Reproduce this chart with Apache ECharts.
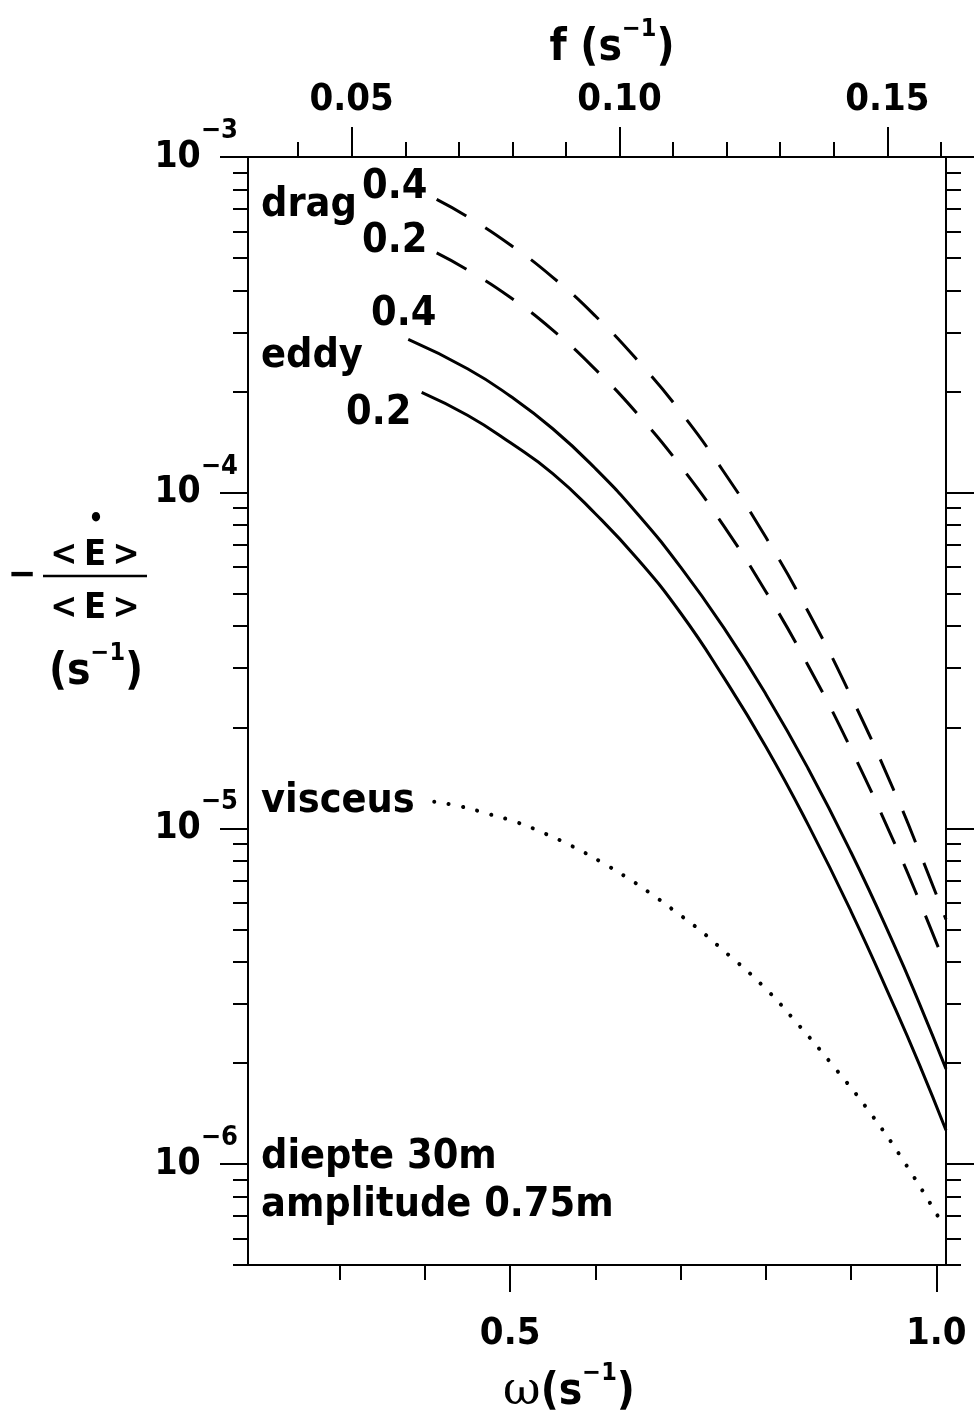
<!DOCTYPE html>
<html><head><meta charset="utf-8">
<script src="https://cdn.jsdelivr.net/npm/echarts@6/dist/echarts.min.js"></script>
<style>html,body{margin:0;padding:0;background:#fff}#c{width:975px;height:1423px}</style>
</head><body><div id="c"></div>
<script>
const FONT = "'DejaVu Sans Condensed','DejaVu Sans',sans-serif";
const TWO_PI = 2 * Math.PI;

// axis ranges and ticks
const omegaRange = [0.1925, 1.0113];
const yRange = [5e-7, 1e-3];
const omegaMajorTicks = [0.5, 1.0];
const omegaMinorTicks = [0.3, 0.4, 0.6, 0.7, 0.8, 0.9];
const fMajorTicks = [0.05, 0.10, 0.15];
const fMinorTicks = [0.04, 0.06, 0.07, 0.08, 0.09, 0.11, 0.12, 0.13, 0.14, 0.16];
const yDecades = [1e-6, 1e-5, 1e-4, 1e-3];
const yMinorTicks = [5e-7, 6e-7, 7e-7, 8e-7, 9e-7,
  2e-6, 3e-6, 4e-6, 5e-6, 6e-6, 7e-6, 8e-6, 9e-6,
  2e-5, 3e-5, 4e-5, 5e-5, 6e-5, 7e-5, 8e-5, 9e-5,
  2e-4, 3e-4, 4e-4, 5e-4, 6e-4, 7e-4, 8e-4, 9e-4];

// drag 0.4 (dashed)
const dragOmega04 = [0.4138, 0.45, 0.50, 0.55, 0.60, 0.65, 0.70, 0.75, 0.80, 0.85, 0.90, 0.95, 0.98, 1.0113];
const drag04 = [7.48e-4, 6.64e-4, 5.48e-4, 4.38e-4, 3.36e-4, 2.47e-4, 1.74e-4, 1.16e-4, 7.36e-5, 4.40e-5, 2.47e-5, 1.30e-5, 8.52e-6, 5.35e-6];
// drag 0.2 (dashed)
const dragOmega02 = [0.4138, 0.45, 0.50, 0.55, 0.60, 0.65, 0.70, 0.75, 0.80, 0.85, 0.90, 0.95, 0.98, 1.0113];
const drag02 = [5.18e-4, 4.61e-4, 3.82e-4, 3.05e-4, 2.33e-4, 1.71e-4, 1.20e-4, 8.00e-5, 5.07e-5, 3.04e-5, 1.72e-5, 9.14e-6, 6.08e-6, 3.87e-6];
// eddy 0.4 (solid)
const eddyOmega04 = [0.3805, 0.45, 0.50, 0.55, 0.60, 0.65, 0.70, 0.75, 0.80, 0.85, 0.90, 0.95, 0.98, 1.0113];
const eddy04 = [2.86e-4, 2.34e-4, 1.94e-4, 1.55e-4, 1.18e-4, 8.61e-5, 6.00e-5, 3.98e-5, 2.51e-5, 1.50e-5, 8.47e-6, 4.52e-6, 3.01e-6, 1.92e-6];
// eddy 0.2 (solid)
const eddyOmega02 = [0.3962, 0.45, 0.50, 0.55, 0.60, 0.65, 0.70, 0.75, 0.80, 0.85, 0.90, 0.95, 0.98, 1.0113];
const eddy02 = [1.99e-4, 1.70e-4, 1.41e-4, 1.14e-4, 8.65e-5, 6.32e-5, 4.38e-5, 2.83e-5, 1.75e-5, 1.02e-5, 5.65e-6, 2.97e-6, 1.98e-6, 1.26e-6];
// viscous (dotted)
const viscOmega = [0.411, 0.4432, 0.4764, 0.5089, 0.5417, 0.5729, 0.6054, 0.6379, 0.668, 0.6946, 0.7219, 0.7482, 0.7951, 0.8392, 0.8811, 0.9233, 0.9644, 1.0035];
const visc = [1.20e-5, 1.16e-5, 1.10e-5, 1.04e-5, 9.62e-6, 8.84e-6, 7.97e-6, 7.11e-6, 6.31e-6, 5.63e-6, 4.99e-6, 4.37e-6, 3.42e-6, 2.58e-6, 1.93e-6, 1.41e-6, 9.95e-7, 6.87e-7];

const zip = (xs, ys) => xs.map((x, i) => [x, ys[i]]);
const black = '#000';
const tickStyle = { color: black, width: 2 };
const lineStyleAxis = { color: black, width: 2 };
const txt = (size) => ({ fontSize: size, fontFamily: FONT, fontWeight: 'bold', color: black });

const supRich = {
  b: Object.assign(txt(37), { lineHeight: 37, verticalAlign: 'bottom' }),
  s: Object.assign(txt(27), { lineHeight: 27, verticalAlign: 'bottom', padding: [0, 0, 31, 0] })
};
const titleRich = {
  a: Object.assign(txt(44), { lineHeight: 44, verticalAlign: 'bottom' }),
  w: { fontSize: 46, fontFamily: "'DejaVu Serif',serif", color: black, lineHeight: 44, verticalAlign: 'bottom' },
  s: Object.assign(txt(25), { lineHeight: 25, verticalAlign: 'bottom', padding: [0, 0, 29, 0] })
};

function xAx(opt) {
  return Object.assign({
    type: 'value', gridIndex: 0, splitLine: { show: false },
    axisLine: { show: true, onZero: false, lineStyle: lineStyleAxis },
    axisLabel: { show: false }
  }, opt);
}
function yAx(opt) {
  return Object.assign({
    type: 'log', logBase: 10, min: yRange[0], max: yRange[1], gridIndex: 0,
    splitLine: { show: false }, minorTick: { show: false },
    axisLine: { show: true, onZero: false, lineStyle: lineStyleAxis },
    axisLabel: { show: false }
  }, opt);
}
function label(text, x, y, size, align) {
  return { type: 'text', x: x, y: y, style: { text: text, font: `bold ${size}px ${FONT}`, fill: black,
    align: align || 'left', verticalAlign: 'middle', textAlign: align || 'left', textVerticalAlign: 'middle' } };
}

const option = {
  animation: false,
  backgroundColor: '#fff',
  grid: { left: 248, right: 29, top: 157, bottom: 158, containLabel: false },
  xAxis: [
    xAx({ position: 'bottom', min: omegaRange[0], max: omegaRange[1],
      axisTick: { customValues: omegaMajorTicks, length: 27, lineStyle: tickStyle },
      axisLabel: Object.assign(txt(38), { show: true, customValues: omegaMajorTicks, margin: 50, formatter: v => v.toFixed(1) }),
      name: '{w|ω}{a|(s}{s|−1}{a|)}', nameLocation: 'middle', nameGap: 106,
      nameTextStyle: { rich: titleRich, padding: [0, 56, 0, 0] } }),
    xAx({ position: 'bottom', min: omegaRange[0], max: omegaRange[1], axisLine: { show: false },
      axisTick: { customValues: omegaMinorTicks, length: 15, lineStyle: tickStyle } }),
    xAx({ position: 'top', min: omegaRange[0] / TWO_PI, max: omegaRange[1] / TWO_PI,
      axisTick: { customValues: fMajorTicks, length: 30, lineStyle: tickStyle },
      axisLabel: Object.assign(txt(38), { show: true, customValues: fMajorTicks, margin: 38, formatter: v => v.toFixed(2) }),
      name: '{a|f (s}{s|−1}{a|)}', nameLocation: 'middle', nameGap: 86,
      nameTextStyle: { rich: titleRich, padding: [0, 0, 0, 30] } }),
    xAx({ position: 'top', min: omegaRange[0] / TWO_PI, max: omegaRange[1] / TWO_PI, axisLine: { show: false },
      axisTick: { customValues: fMinorTicks, length: 15, lineStyle: tickStyle } })
  ],
  yAxis: [
    yAx({ position: 'left',
      axisTick: { customValues: yDecades, length: 28, lineStyle: tickStyle },
      axisLabel: { show: true, customValues: yDecades, margin: 10, rich: supRich,
        formatter: v => '{b|10}{s|−' + Math.round(-Math.log10(v)) + '}' } }),
    yAx({ position: 'left', axisLine: { show: false },
      axisTick: { customValues: yMinorTicks, length: 15, lineStyle: tickStyle } }),
    yAx({ position: 'right',
      axisTick: { customValues: yDecades, length: 28, lineStyle: tickStyle } }),
    yAx({ position: 'right', axisLine: { show: false },
      axisTick: { customValues: yMinorTicks, length: 15, lineStyle: tickStyle } })
  ],
  series: [
    { name: 'drag 0.4', type: 'line', data: zip(dragOmega04, drag04), smooth: true, showSymbol: false,
      lineStyle: { color: black, width: 3, type: [34, 22] } },
    { name: 'drag 0.2', type: 'line', data: zip(dragOmega02, drag02), smooth: true, showSymbol: false,
      lineStyle: { color: black, width: 3, type: [34, 22] } },
    { name: 'eddy 0.4', type: 'line', data: zip(eddyOmega04, eddy04), smooth: true, showSymbol: false,
      lineStyle: { color: black, width: 3 } },
    { name: 'eddy 0.2', type: 'line', data: zip(eddyOmega02, eddy02), smooth: true, showSymbol: false,
      lineStyle: { color: black, width: 3 } },
    { name: 'visceus', type: 'line', data: zip(viscOmega, visc), smooth: true, showSymbol: false,
      lineStyle: { color: black, width: 4, type: [0.1, 14.5], cap: 'round' } }
  ],
  graphic: [
    // annotations inside plot
    label('drag', 261, 205, 41),
    label('0.4', 362, 187, 41),
    label('0.2', 362, 241, 41),
    label('0.4', 371, 314, 41),
    label('eddy', 261, 356, 41),
    label('0.2', 346, 413, 41),
    label('visceus', 261, 801, 41),
    label('diepte 30m', 261, 1157, 41),
    label('amplitude 0.75m', 261, 1205, 41),
    // y-axis title
    label('−', 22, 576, 38, 'center'),
    label('•', 96, 520, 26, 'center'),
    label('<\u2009E\u2009>', 95, 556, 36, 'center'),
    { type: 'line', shape: { x1: 43, y1: 576, x2: 147, y2: 576 }, style: { stroke: black, lineWidth: 2.5 } },
    label('<\u2009E\u2009>', 95, 609, 36, 'center'),
    { type: 'text', x: 96, y: 673, style: { text: '{a|(s}{s|−1}{a|)}', rich: titleRich, align: 'center', verticalAlign: 'middle', textAlign: 'center', textVerticalAlign: 'middle' } }
  ]
};

const chart = echarts.init(document.getElementById('c'), null, { renderer: 'canvas', width: 975, height: 1423 });
chart.setOption(option);
</script>
</body></html>
